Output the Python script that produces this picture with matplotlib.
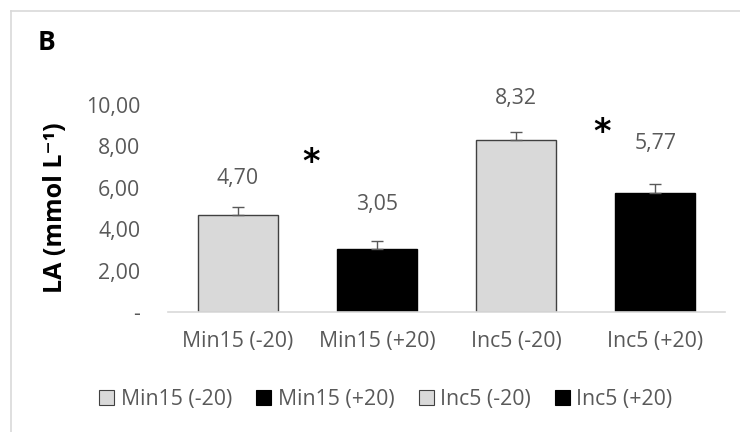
import matplotlib
matplotlib.use("Agg")
import matplotlib.pyplot as plt
from matplotlib.lines import Line2D
from matplotlib.patches import Patch

# ---- data ----
categories = ["Min15 (-20)", "Min15 (+20)", "Inc5 (-20)", "Inc5 (+20)"]
values = [4.70, 3.05, 8.32, 5.77]
errors = [0.35, 0.40, 0.38, 0.43]
value_labels = ["4,70", "3,05", "8,32", "5,77"]
yticks = [0, 2, 4, 6, 8, 10]
ytick_labels = ["-", "2,00", "4,00", "6,00", "8,00", "10,00"]
# significance markers: (x between bars, height)
stars_x = [0.53, 2.62]
stars_y = [7.2, 8.65]

# ---- style ----
colors = ["#d9d9d9", "#000000", "#d9d9d9", "#000000"]
edges = ["#404040", "#000000", "#404040", "#000000"]
label_pad = [1.77, 2.12, 1.97, 2.35]
GRAY = "#595959"
FONT = "Open Sans"
FS = 15.3

plt.rcParams["font.family"] = [FONT, "DejaVu Sans"]

W, H = 740, 432
fig = plt.figure(figsize=(W / 100, H / 100), dpi=100)
ax = fig.add_axes([168 / W, 1 - 312 / H, (725 - 168) / W, (312 - 105) / H])

x = range(len(categories))
ax.bar(x, values, width=0.575, color=colors, edgecolor=edges, linewidth=1.0, zorder=2)
ax.errorbar(x, values, yerr=[[0] * 4, errors], fmt="none", ecolor=GRAY,
            elinewidth=1.0, capsize=4, capthick=1.0, zorder=3)

for i, (v, lab) in enumerate(zip(values, value_labels)):
    ax.text(i, v + label_pad[i], lab, ha="center", va="center",
            fontsize=FS, color=GRAY, clip_on=False)

for sx, sy in zip(stars_x, stars_y):
    ax.text(sx, sy, "*", ha="center", va="center", fontsize=24,
            fontweight="bold", color="black", family="DejaVu Sans", clip_on=False)

ax.set_xlim(-0.5, 3.5)
ax.set_ylim(0, 10)
ax.set_xticks(list(x))
ax.set_xticklabels(categories, fontsize=FS, color=GRAY)
ax.set_yticks(yticks)
ax.set_yticklabels(ytick_labels, fontsize=FS, color=GRAY)
ax.tick_params(axis="both", length=0)
ax.tick_params(axis="x", pad=14)
ax.tick_params(axis="y", pad=20)
for s in ["top", "right", "left"]:
    ax.spines[s].set_visible(False)
ax.spines["bottom"].set_color("#d9d9d9")
ax.spines["bottom"].set_linewidth(1.2)

fig.text(55 / W, 1 - 208 / H, "LA (mmol L\u207b\u00b9)", rotation=90,
         ha="center", va="center", fontsize=18, fontweight="bold",
         family=[FONT, "DejaVu Sans"])
fig.text(46 / W, 1 - 42 / H, "B", ha="center", va="center", fontsize=19,
         fontweight="bold")

handles = [Patch(facecolor=c, edgecolor=e, linewidth=0.8) for c, e in zip(colors, edges)]
fig.legend(handles, categories, loc="center", bbox_to_anchor=(386 / W, 1 - 399 / H),
           ncol=4, frameon=False, fontsize=FS, handlelength=0.7, handleheight=0.7,
           handletextpad=0.3, columnspacing=1.15, labelcolor=GRAY)

# outer chart border (top/left visible)
fig.add_artist(Line2D([11 / W, 1], [1 - 11 / H, 1 - 11 / H], color="#d9d9d9", lw=1.2))
fig.add_artist(Line2D([11 / W, 11 / W], [0, 1 - 11 / H], color="#d9d9d9", lw=1.2))

fig.savefig("out.png", dpi=100)
